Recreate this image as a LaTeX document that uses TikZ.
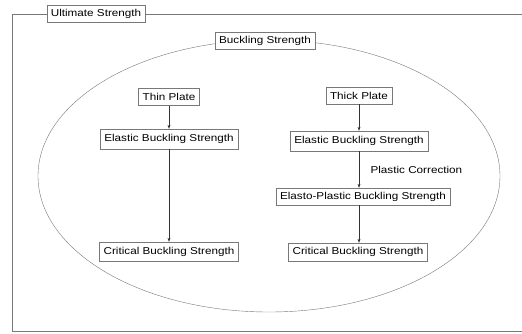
\documentclass[tikz,border=0pt]{standalone}
\usepackage{fontspec}
\setmainfont[FakeStretch=1.17]{Liberation Sans}
\usetikzlibrary{shapes.geometric,arrows.meta}

\definecolor{linegray}{RGB}{120,120,120}

\tikzset{
  textbox/.style={draw=linegray, fill=white, inner xsep=4pt, inner ysep=0pt,
    minimum height=17pt, font=\fontsize{10}{11}\selectfont},
  flow/.style={draw=black!80, -{Stealth[length=4pt,width=3pt]}, line width=0.5pt}
}

\begin{document}
\begin{tikzpicture}[x=1pt,y=-1pt]

\useasboundingbox (0,0) rectangle (522,333);
\clip (0,0) rectangle (522,333);
\fill[white] (0,0) rectangle (522,333);

%%%%%%%%%%%%%%%%%%%%%%%%%%%%%%%%%%%%%%%%%%%%%%%%%%%%%%
% OUTER FRAME
%%%%%%%%%%%%%%%%%%%%%%%%%%%%%%%%%%%%%%%%%%%%%%%%%%%%%%

\node[
draw=linegray,
minimum width=548pt,
minimum height=317pt,
inner sep=0pt
](frame)
at (286,172.5)
{};

\node[textbox](ultimate)
at (96,14)
{Ultimate Strength};

%%%%%%%%%%%%%%%%%%%%%%%%%%%%%%%%%%%%%%%%%%%%%%%%%%%%%%
% ELLIPSE
%%%%%%%%%%%%%%%%%%%%%%%%%%%%%%%%%%%%%%%%%%%%%%%%%%%%%%

\node[
draw=linegray,
ellipse,
minimum width=462pt,
minimum height=272pt,
inner sep=0pt
](buckle)
at (269,176)
{};

\node[textbox](buckling)
at (265,40.5)
{Buckling Strength};

%%%%%%%%%%%%%%%%%%%%%%%%%%%%%%%%%%%%%%%%%%%%%%%%%%%%%%
% THIN PLATE
%%%%%%%%%%%%%%%%%%%%%%%%%%%%%%%%%%%%%%%%%%%%%%%%%%%%%%

\node[textbox](thin)
at (169,97)
{Thin Plate};

\node[textbox, minimum height=20pt](elasticL)
at (169,139)
{Elastic Buckling Strength};

\node[textbox, minimum height=19pt](criticalL)
at (169,251.5)
{Critical Buckling Strength};

%%%%%%%%%%%%%%%%%%%%%%%%%%%%%%%%%%%%%%%%%%%%%%%%%%%%%%
% THICK PLATE
%%%%%%%%%%%%%%%%%%%%%%%%%%%%%%%%%%%%%%%%%%%%%%%%%%%%%%

\node[textbox](thick)
at (359,95.5)
{Thick Plate};

\node[textbox, minimum height=20pt](elasticR)
at (359,141)
{Elastic Buckling Strength};

\node[textbox](elastoR)
at (363,196.5)
{Elasto-Plastic Buckling Strength};

\node[textbox, minimum height=18pt](criticalR)
at (358,252)
{Critical Buckling Strength};

%%%%%%%%%%%%%%%%%%%%%%%%%%%%%%%%%%%%%%%%%%%%%%%%%%%%%%
% LINES
%%%%%%%%%%%%%%%%%%%%%%%%%%%%%%%%%%%%%%%%%%%%%%%%%%%%%%

\draw[flow] (thin)--(elasticL);

\draw[flow] (elasticL)--(criticalL);

\draw[flow] (thick)--(elasticR);

\draw[flow] (elasticR)--
node[right, xshift=8pt, font=\fontsize{10}{11}\selectfont]{Plastic Correction}
(elasticR |- elastoR.north);

\draw[flow] (elastoR.south -| elasticR)--(criticalR.north -| elasticR);

\end{tikzpicture}
\end{document}
